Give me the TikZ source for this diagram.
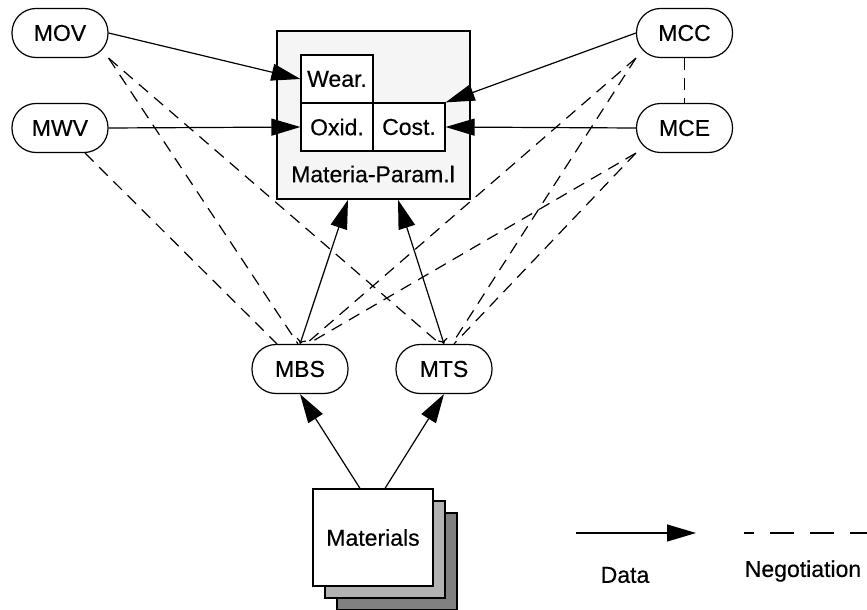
\documentclass[tikz,border=0pt]{standalone}
\usepackage{fontspec}
\setmainfont{Liberation Sans}
\newfontfamily\etifont[FakeBold=0.4]{Liberation Sans}
\usetikzlibrary{arrows.meta,calc}
\begin{document}
\begin{tikzpicture}[x=0.5pt,y=-0.5pt]
\tikzset{
    texto/.style={font=\etifont\fontsize{11.5}{13}\selectfont},
    pastilla/.style={texto, draw, line width=0.6pt, rounded corners=12pt, minimum width=48pt, minimum height=24.5pt, inner sep=0pt},
    casilla/.style={texto, draw, fill=white, line width=0.6pt, minimum width=36pt, minimum height=24pt, inner sep=0pt},
    hoja/.style={draw, line width=0.6pt, minimum width=60pt, minimum height=48.5pt, inner sep=0pt},
    datos/.style={line width=0.6pt, -{Triangle[length=14.5pt,width=8.5pt]}},
    negocia/.style={line width=0.6pt, dash pattern=on 6pt off 4pt}
}
\useasboundingbox (0,0) rectangle (867,610);
\node[draw, fill=black!4, line width=0.8pt, minimum width=96.5pt, minimum height=84pt] (param) at (373.5,115) {};
\node[casilla] (wear) at (337,79) {Wear.};
\node[casilla] (oxid) at (337,127) {Oxid.};
\node[casilla] (cost) at (409,127) {Cost.};
\node[texto] (ptit) at (373,174) {Materia-Param.l};
\node[pastilla] (mov) at (60,33) {MOV};
\node[pastilla] (mwv) at (60,128) {MWV};
\node[pastilla] (mcc) at (684.5,33) {MCC};
\node[pastilla] (mce) at (684.5,128) {MCE};
\node[pastilla] (mbs) at (300,369) {MBS};
\node[pastilla] (mts) at (444,369) {MTS};
\node[hoja, fill=black!50] (hoja3) at (397,561.5) {};
\node[hoja, fill=black!30] (hoja2) at (385,549.5) {};
\node[hoja, fill=white, texto] (mat) at (373,537.5) {Materials};
\draw[datos] (mov.east) -- (wear.west);
\draw[datos] (mwv.east) -- (oxid.west);
\draw[datos] (mcc.west) -- (cost.north east);
\draw[datos] (mce.west) -- (cost.east);
\draw[datos] ($(mat.north)+(-13,0)$) -- (mbs.south);
\draw[datos] ($(mat.north)+(12,0)$) -- (mts.south);
\draw[line width=0.6pt, {Triangle[length=14.5pt,width=8.5pt]}-{To[length=2.5pt,width=5pt]}] ($(param.south)+(-25.5,0)$) -- (mbs.north);
\draw[line width=0.6pt, {Triangle[length=14.5pt,width=8.5pt]}-{To[length=2.5pt,width=5pt]}] ($(param.south)+(24.5,0)$) -- (mts.north);
\draw[negocia] (mov.south east) -- ($(mbs.north)+(-2,0)$);
\draw[negocia] (mov.south east) -- ($(mts.north)+(-4,0)$);
\draw[negocia] ($(mwv.south)+(25,0)$) -- ($(mbs.north)+(-23,0)$);
\draw[negocia] (mcc.south west) -- ($(mbs.north)+(6,0)$);
\draw[negocia] (mcc.south west) -- ($(mts.north)+(8,0)$);
\draw[negocia] (mce.south west) -- ($(mbs.north)+(8,0)$);
\draw[negocia] (mce.south west) -- ($(mts.north)+(10,0)$);
\draw[negocia] (mcc.south) -- (mce.north);
\coordinate (datA) at (576,533);
\coordinate (datB) at (696,533);
\draw[datos] (datA) -- (datB);
\node[texto] (datT) at (625,575) {Data};
\coordinate (negA) at (744,533);
\coordinate (negB) at (867,533);
\draw[line width=0.6pt, dash pattern=on 12pt off 8pt, dash phase=7pt] (negA) -- (negB);
\node[texto] (negT) at (803,571) {Negotiation};
\end{tikzpicture}
\end{document}
